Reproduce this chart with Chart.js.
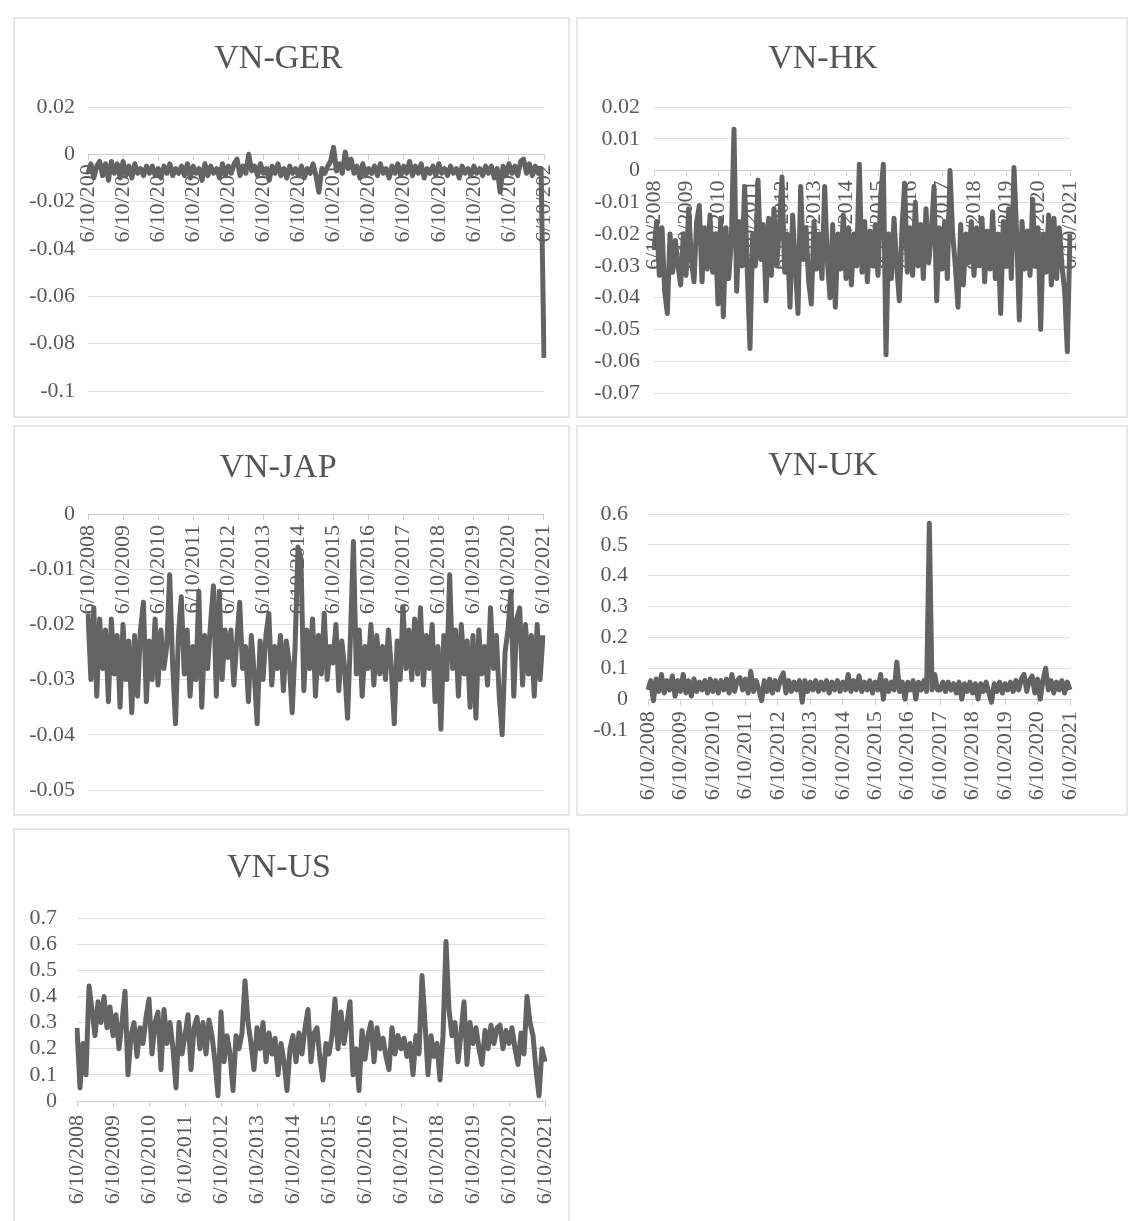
<!DOCTYPE html>
<html>
<head>
<meta charset="utf-8">
<script src="https://cdn.jsdelivr.net/npm/chart.js@4.4.0/dist/chart.umd.min.js"></script>
<style>
  html, body { margin: 0; padding: 0; background: #ffffff; }
  body { width: 1132px; height: 1221px; position: relative; overflow: hidden; }
  .panel { position: absolute; box-sizing: border-box; border: 2px solid #e6e6e6; background: #fff; }
  canvas { position: absolute; }
</style>
</head>
<body>
<script>
// ---------------- DATA ----------------
const yearTicks = ['6/10/2008','6/10/2009','6/10/2010','6/10/2011','6/10/2012','6/10/2013','6/10/2014',
                   '6/10/2015','6/10/2016','6/10/2017','6/10/2018','6/10/2019','6/10/2020','6/10/2021'];

// monthly categories 6/10/2008 ... 6/10/2021
const dates = [];
for (let k = 0; k <= 156; k++) {
  const m = 5 + k;
  dates.push(((m % 12) + 1) + '/10/' + (2008 + Math.floor(m / 12)));
}

const titles = ['VN-GER', 'VN-HK', 'VN-JAP', 'VN-UK', 'VN-US'];

const vnGer = [
 -0.008,-0.004,-0.010,-0.005,-0.003,-0.009,-0.004,-0.011,-0.003,-0.008,-0.004,-0.010,
 -0.003,-0.009,-0.005,-0.010,-0.004,-0.008,-0.006,-0.009,-0.005,-0.008,-0.005,-0.009,
 -0.006,-0.010,-0.005,-0.008,-0.004,-0.009,-0.006,-0.008,-0.005,-0.009,-0.004,-0.010,
 -0.005,-0.008,-0.006,-0.011,-0.004,-0.009,-0.005,-0.008,-0.006,-0.010,-0.004,-0.009,
 -0.005,-0.008,-0.004,-0.002,-0.009,-0.005,-0.008,0.000,-0.007,-0.005,-0.009,-0.004,
 -0.008,-0.006,-0.011,-0.005,-0.008,-0.004,-0.009,-0.006,-0.010,-0.005,-0.008,-0.006,
 -0.009,-0.005,-0.010,-0.006,-0.008,-0.004,-0.009,-0.016,-0.006,-0.008,-0.005,-0.003,
 0.003,-0.007,-0.004,-0.008,0.001,-0.006,-0.002,-0.008,-0.005,-0.010,-0.004,-0.009,
 -0.006,-0.008,-0.005,-0.009,-0.004,-0.008,-0.006,-0.010,-0.005,-0.008,-0.004,-0.009,
 -0.005,-0.008,-0.003,-0.009,-0.005,-0.008,-0.004,-0.010,-0.006,-0.008,-0.005,-0.009,
 -0.004,-0.008,-0.006,-0.009,-0.005,-0.008,-0.006,-0.010,-0.005,-0.008,-0.006,-0.009,
 -0.005,-0.008,-0.006,-0.009,-0.005,-0.008,-0.005,-0.010,-0.006,-0.016,-0.005,-0.009,
 -0.004,-0.008,-0.005,-0.009,-0.003,-0.002,-0.008,-0.004,-0.009,-0.005,-0.008,-0.006,
 -0.086];

const vnHk = [
 -0.025,-0.016,-0.033,-0.018,-0.038,-0.045,-0.020,-0.032,-0.022,-0.030,-0.036,-0.020,
 -0.033,-0.012,-0.028,-0.035,-0.016,-0.011,-0.035,-0.018,-0.031,-0.014,-0.032,-0.020,
 -0.042,-0.015,-0.046,-0.018,-0.034,-0.022,0.013,-0.038,-0.016,-0.030,-0.005,-0.032,
 -0.056,-0.020,-0.030,-0.003,-0.028,-0.017,-0.041,-0.015,-0.033,-0.012,-0.030,-0.018,
 -0.002,-0.032,-0.020,-0.043,-0.014,-0.030,-0.045,-0.005,-0.028,-0.018,-0.035,-0.042,
 -0.016,-0.031,-0.020,-0.034,-0.005,-0.028,-0.040,-0.017,-0.043,-0.020,-0.031,-0.014,
 -0.034,-0.018,-0.036,-0.020,-0.030,0.002,-0.032,-0.016,-0.035,-0.019,-0.030,-0.017,
 -0.033,-0.008,0.002,-0.058,-0.020,-0.034,-0.015,-0.030,-0.041,-0.018,-0.004,-0.032,
 -0.018,-0.033,-0.010,-0.030,-0.017,-0.034,-0.012,-0.029,-0.020,-0.005,-0.041,-0.018,
 -0.031,-0.016,-0.034,0.000,-0.020,-0.030,-0.043,-0.017,-0.036,-0.020,-0.029,-0.016,
 -0.033,-0.018,-0.030,-0.015,-0.035,-0.019,-0.031,-0.013,-0.034,-0.020,-0.045,-0.016,
 -0.030,-0.012,-0.034,0.001,-0.020,-0.047,-0.016,-0.031,-0.019,-0.033,-0.009,-0.030,
 -0.018,-0.050,-0.020,-0.032,-0.014,-0.036,-0.015,-0.034,-0.018,-0.030,-0.038,-0.057,
 -0.020];

const vnJap = [
 -0.018,-0.030,-0.017,-0.033,-0.019,-0.028,-0.021,-0.034,-0.019,-0.029,-0.022,-0.035,
 -0.020,-0.030,-0.023,-0.036,-0.022,-0.033,-0.021,-0.016,-0.034,-0.023,-0.030,-0.019,
 -0.031,-0.021,-0.028,-0.024,-0.011,-0.027,-0.038,-0.022,-0.015,-0.029,-0.021,-0.033,
 -0.024,-0.030,-0.014,-0.035,-0.022,-0.028,-0.020,-0.013,-0.033,-0.014,-0.030,-0.021,
 -0.026,-0.021,-0.031,-0.023,-0.016,-0.028,-0.024,-0.034,-0.022,-0.029,-0.038,-0.023,
 -0.030,-0.022,-0.018,-0.031,-0.024,-0.028,-0.022,-0.032,-0.023,-0.027,-0.036,-0.024,
 -0.006,-0.008,-0.032,-0.021,-0.028,-0.019,-0.033,-0.022,-0.029,-0.018,-0.030,-0.024,
 -0.027,-0.020,-0.032,-0.023,-0.028,-0.037,-0.022,-0.005,-0.029,-0.021,-0.033,-0.024,
 -0.028,-0.020,-0.031,-0.022,-0.029,-0.024,-0.030,-0.021,-0.028,-0.038,-0.023,-0.030,
 -0.017,-0.028,-0.021,-0.030,-0.019,-0.029,-0.017,-0.031,-0.022,-0.028,-0.020,-0.034,
 -0.024,-0.039,-0.022,-0.030,-0.011,-0.028,-0.021,-0.033,-0.020,-0.029,-0.023,-0.035,
 -0.022,-0.037,-0.021,-0.029,-0.024,-0.031,-0.017,-0.028,-0.022,-0.033,-0.040,-0.025,
 -0.021,-0.014,-0.033,-0.019,-0.017,-0.031,-0.020,-0.029,-0.022,-0.033,-0.020,-0.030,
 -0.022];

const vnUk = [
 0.03,0.06,-0.005,0.065,0.025,0.08,0.02,0.06,0.03,0.075,0.01,0.06,
 0.025,0.08,0.02,0.06,0.01,0.065,0.025,0.055,0.03,0.06,0.02,0.065,
 0.025,0.06,0.02,0.06,0.03,0.065,0.02,0.08,0.025,0.06,0.07,0.03,
 0.065,0.02,0.09,0.025,0.06,0.03,-0.005,0.06,0.025,0.065,0.02,0.06,
 0.03,0.065,0.085,0.02,0.06,0.025,0.055,0.03,0.06,-0.01,0.06,0.025,
 0.055,0.03,0.06,0.025,0.055,0.03,0.06,0.02,0.055,0.03,0.06,0.025,
 0.055,0.03,0.08,0.025,0.06,0.03,0.075,0.025,0.055,0.03,0.06,0.02,
 0.055,0.03,0.08,0.0,0.06,0.025,0.055,0.03,0.12,0.025,0.055,0.0,
 0.055,0.03,0.06,0.0,0.055,0.03,0.06,0.025,0.57,0.03,0.08,0.03,
 0.03,0.055,0.025,0.055,0.03,0.05,0.02,0.055,0.0,0.05,0.025,0.055,
 0.02,0.05,0.0,0.05,0.025,0.055,0.02,-0.01,0.05,0.025,0.055,0.02,
 0.05,0.03,0.055,0.025,0.06,0.03,0.065,0.08,0.025,0.06,0.075,0.02,
 0.065,0.0,0.06,0.1,0.03,0.06,0.02,0.055,0.03,0.06,0.02,0.055,
 0.03];

const vnUs = [
 0.28,0.05,0.22,0.10,0.44,0.35,0.25,0.38,0.30,0.40,0.28,0.36,
 0.25,0.33,0.20,0.30,0.42,0.10,0.25,0.30,0.17,0.28,0.22,0.32,
 0.39,0.18,0.30,0.34,0.12,0.35,0.22,0.30,0.20,0.05,0.30,0.18,
 0.25,0.33,0.12,0.28,0.32,0.20,0.30,0.18,0.31,0.25,0.15,0.02,
 0.34,0.15,0.25,0.18,0.04,0.25,0.20,0.26,0.46,0.30,0.22,0.12,
 0.28,0.20,0.30,0.15,0.26,0.18,0.24,0.10,0.22,0.15,0.04,0.20,
 0.25,0.15,0.26,0.18,0.28,0.35,0.15,0.26,0.28,0.16,0.08,0.22,
 0.18,0.25,0.39,0.20,0.34,0.22,0.30,0.38,0.10,0.20,0.04,0.27,
 0.16,0.25,0.30,0.15,0.28,0.20,0.24,0.17,0.12,0.28,0.18,0.25,
 0.20,0.24,0.17,0.22,0.10,0.25,0.18,0.48,0.30,0.10,0.25,0.17,
 0.22,0.08,0.25,0.61,0.35,0.25,0.30,0.15,0.26,0.38,0.14,0.30,
 0.22,0.28,0.20,0.14,0.27,0.20,0.29,0.22,0.28,0.29,0.20,0.27,
 0.22,0.28,0.20,0.14,0.26,0.18,0.40,0.30,0.25,0.12,0.02,0.20,
 0.15];

const yRanges = [[-0.1, 0.02, 0.02], [-0.07, 0.02, 0.01], [-0.05, 0, 0.01], [-0.1, 0.6, 0.1], [0, 0.7, 0.1]];
const seriesList = [vnGer, vnHk, vnJap, vnUk, vnUs];

// ---------------- LAYOUT ----------------
// box: panel [left, top, width, height]; area: plot [left, top, right, bottom]; titleY: title middle
const layouts = [
  { box: [13, 17, 557, 401],  area: [88, 107, 544, 391],   titleY: 59,  ypad: 13, xpad: 5, trunc: 8 },
  { box: [576, 17, 552, 401], area: [654, 107, 1070, 393], titleY: 59,  ypad: 14, xpad: 5 },
  { box: [13, 425, 557, 391], area: [88, 514, 543, 790],   titleY: 468, ypad: 13, xpad: 6 },
  { box: [576, 425, 552, 391],area: [648, 514, 1070, 730], titleY: 466, ypad: 20, xpad: 7 },
  { box: [13, 828, 557, 400], area: [77, 918, 545, 1101],  titleY: 868, ypad: 20, xpad: 9 }
];

const SERIF = "'Liberation Serif', 'Times New Roman', serif";
const TXT = '#5a5a5a';
const GRID = '#e0e0e0';
const TITLE_SIZE = 34, TITLE_LH = 1.2;

function fmt(v) {
  const r = +(+v).toFixed(4);
  return String(r === 0 ? 0 : r);
}

layouts.forEach((L, n) => {
  const [pl, pt, pw, ph] = L.box;
  const [al, at, ar, ab] = L.area;
  const div = document.createElement('div');
  div.className = 'panel';
  div.style.left = pl + 'px'; div.style.top = pt + 'px';
  div.style.width = pw + 'px'; div.style.height = ph + 'px';
  document.body.appendChild(div);

  const cv = document.createElement('canvas');
  cv.width = pw; cv.height = ph;
  cv.style.left = pl + 'px'; cv.style.top = pt + 'px';
  cv.style.width = pw + 'px'; cv.style.height = ph + 'px';
  document.body.appendChild(cv);

  const tLine = TITLE_SIZE * TITLE_LH;
  const tTop = L.titleY - pt - tLine / 2;
  const tBot = at - pt - tTop - tLine;
  const [ymin, ymax, ystep] = yRanges[n];

  new Chart(cv, {
    type: 'line',
    data: {
      labels: dates,
      datasets: [{
        data: seriesList[n],
        borderColor: '#636363',
        borderWidth: 5,
        pointRadius: 0,
        pointHoverRadius: 0,
        tension: 0,
        fill: false,
        borderJoinStyle: 'round',
        borderCapStyle: 'butt'
      }]
    },
    options: {
      responsive: false,
      animation: false,
      events: [],
      layout: { padding: { left: 0, top: 0, right: pl + pw - ar, bottom: pt + ph - ab } },
      plugins: {
        legend: { display: false },
        tooltip: { enabled: false },
        title: {
          display: true,
          text: titles[n],
          color: '#555555',
          font: { family: SERIF, size: TITLE_SIZE, weight: 'normal', lineHeight: TITLE_LH },
          padding: { top: tTop, bottom: tBot }
        }
      },
      scales: {
        x: {
          type: 'category',
          position: { y: 0 },
          offset: false,
          grid: { display: true, drawOnChartArea: false, drawTicks: true, tickLength: 5, color: '#d0d0d0' },
          border: { display: true, color: '#d0d0d0', width: 1 },
          ticks: {
            autoSkip: false,
            maxRotation: 90,
            minRotation: 90,
            padding: L.xpad,
            color: TXT,
            font: { family: SERIF, size: 22 },
            callback: function (value, index) {
              const lab = this.getLabelForValue(value);
              if (!yearTicks.includes(lab)) return null;
              return L.trunc ? lab.slice(0, L.trunc) : lab;
            }
          },
          afterFit: function (s) { s.height = 0; s.paddingLeft = 0; s.paddingRight = 0; }
        },
        y: {
          type: 'linear',
          min: ymin, max: ymax,
          grid: { display: true, color: GRID, lineWidth: 1, drawTicks: false },
          border: { display: false },
          ticks: {
            stepSize: ystep,
            autoSkip: false,
            padding: L.ypad,
            color: TXT,
            font: { family: SERIF, size: 22 },
            callback: (v) => fmt(v)
          },
          afterFit: function (s) { s.width = al - pl; s.paddingTop = 0; s.paddingBottom = 0; }
        }
      }
    }
  });
});
</script>
</body>
</html>
